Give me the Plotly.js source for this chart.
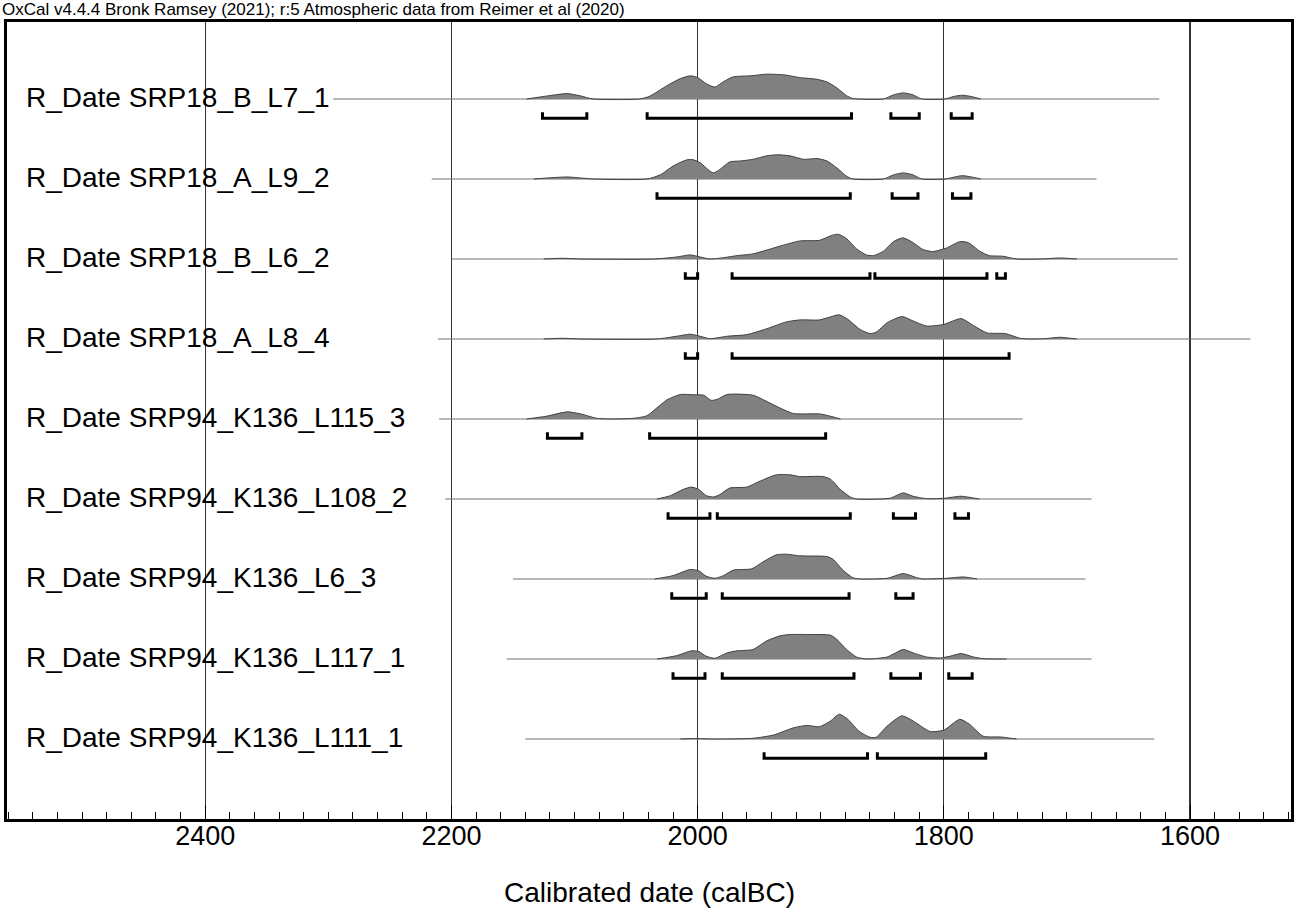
<!DOCTYPE html>
<html>
<head>
<meta charset="utf-8">
<script src="https://cdn.plot.ly/plotly-3.0.1.min.js"></script>
<style>
  html, body { margin: 0; padding: 0; background: #fff; }
  #plot { width: 1299px; height: 914px; }
</style>
</head>
<body>
<div id="plot"></div>
<script>
/* OxCal multiplot: calibrated R_Dates (calBC), 95.4% ranges */

const labels = [
  'R_Date SRP18_B_L7_1',
  'R_Date SRP18_A_L9_2',
  'R_Date SRP18_B_L6_2',
  'R_Date SRP18_A_L8_4',
  'R_Date SRP94_K136_L115_3',
  'R_Date SRP94_K136_L108_2',
  'R_Date SRP94_K136_L6_3',
  'R_Date SRP94_K136_L117_1',
  'R_Date SRP94_K136_L111_1',
];

// probability curves, year (calBC) + relative density
const yr1 = [2139, 2122, 2106, 2095, 2085, 2047, 2039, 2025, 2014, 2006, 2000, 1993, 1986, 1979, 1971, 1957, 1944, 1930, 1917, 1903, 1895, 1887, 1879, 1874, 1849, 1841, 1833, 1825, 1818, 1799, 1792, 1785, 1778, 1770];
const p1 = [0, 3, 5.3, 3, 0, 0, 2.7, 13, 20, 22.7, 21, 15, 11.7, 17, 21.7, 22.7, 24.3, 23.7, 21, 19.3, 16.7, 11, 3.3, 0.5, 0, 4, 6, 4, 0, 0, 2.5, 3.7, 2.5, 0];

const yr2 = [2133, 2106, 2085, 2041, 2030, 2020, 2009, 2004, 1998, 1990, 1987, 1982, 1974, 1965, 1955, 1944, 1935, 1925, 1914, 1903, 1895, 1887, 1879, 1874, 1849, 1841, 1833, 1825, 1818, 1799, 1785, 1770];
const p2 = [0, 2, 0, 0, 4.3, 12.7, 18.7, 19, 16, 7.7, 6, 9.3, 16.7, 17.7, 19.3, 22.7, 23.7, 22.7, 19.3, 20, 17.7, 11, 2.7, 0, 0, 4, 6, 4, 0, 0, 3.3, 0];

const yr3 = [2125, 2110, 2095, 2035, 2017, 2006, 1998, 1990, 1979, 1968, 1955, 1944, 1930, 1917, 1901, 1892, 1886, 1879, 1871, 1863, 1857, 1849, 1841, 1833, 1825, 1817, 1809, 1798, 1787, 1780, 1771, 1763, 1752, 1741, 1720, 1706, 1692];
const p3 = [0, 0.7, 0, 0, 2, 4, 2, 0, 1.3, 3.3, 5, 8.7, 13.7, 17.7, 18.3, 22.7, 24.3, 20, 10, 4, 3.3, 7.7, 17, 20.7, 16, 9.3, 7.3, 10.7, 17, 16, 7.7, 3.3, 2.7, 0, 0, 1, 0];

const yr4 = [2125, 2110, 2095, 2033, 2017, 2006, 1998, 1990, 1976, 1960, 1944, 1928, 1917, 1901, 1892, 1885, 1878, 1868, 1860, 1855, 1846, 1834, 1825, 1814, 1800, 1786, 1776, 1765, 1750, 1738, 1730, 1718, 1706, 1692];
const p4 = [0, 0.7, 0, 0, 2.7, 4.7, 2.7, 0.3, 2.7, 4.3, 10, 16.7, 18.7, 18.7, 21.7, 23.7, 19.3, 9.3, 5.3, 6.7, 16, 22, 17.7, 12.7, 14.3, 20, 13.3, 6, 5.3, 0.7, 0, 0.3, 1.7, 0];

const yr5 = [2139, 2123, 2106, 2095, 2082, 2071, 2052, 2041, 2033, 2025, 2014, 2003, 1995, 1989, 1984, 1976, 1955, 1944, 1933, 1922, 1901, 1892, 1884];
const p5 = [0, 2.7, 7, 5, 0.7, 0, 0.7, 3.3, 11, 18.7, 24, 23.7, 23.3, 18.3, 19.3, 24, 23.3, 17.3, 10.7, 5.3, 5, 2.7, 0];

const yr6 = [2033, 2022, 2012, 2005, 1999, 1993, 1987, 1982, 1974, 1960, 1949, 1936, 1925, 1917, 1898, 1892, 1884, 1876, 1871, 1844, 1833, 1825, 1814, 1800, 1786, 1776, 1771];
const p6 = [0, 3.3, 9.3, 11.7, 9.3, 3.3, 2, 4.3, 10.7, 11.7, 17.7, 23.7, 23.7, 22, 22, 19.3, 9.3, 2, 0, 0.7, 6, 2.7, 0.3, 0.7, 2.7, 1, 0];

const yr7 = [2035, 2020, 2006, 1999, 1993, 1986, 1979, 1971, 1956, 1947, 1936, 1928, 1917, 1895, 1890, 1882, 1874, 1868, 1846, 1833, 1822, 1817, 1798, 1784, 1773];
const p7 = [0, 3.3, 9.3, 8, 2.7, 0.7, 3.3, 8.7, 10, 16.7, 23.7, 24.3, 22.7, 22, 19.3, 8.7, 1.3, 0, 0.7, 5.3, 1.3, 0, 0.7, 2, 0];

const yr8 = [2033, 2017, 2005, 1999, 1993, 1986, 1976, 1968, 1955, 1944, 1933, 1925, 1911, 1892, 1887, 1879, 1871, 1863, 1846, 1833, 1825, 1814, 1803, 1795, 1786, 1776, 1768, 1749];
const p8 = [0, 3.3, 8, 7.3, 2.7, 0.7, 6, 8, 9.3, 17.7, 22.7, 24, 24, 23.3, 19.3, 9.3, 2, 0, 2, 9.3, 6, 2, 1, 2.7, 5.3, 2, 0.3, 0];

const yr9 = [2014, 2000, 1990, 1976, 1955, 1938, 1922, 1911, 1901, 1892, 1885, 1878, 1869, 1860, 1855, 1846, 1834, 1825, 1811, 1800, 1787, 1779, 1768, 1754, 1741];
const p9 = [0, 0.4, 0, 0, 0.7, 4, 11, 13.3, 12, 17.7, 24.3, 19.3, 7.7, 1.7, 1.7, 12.7, 22.7, 17.7, 7.3, 8.7, 19.3, 14.3, 2.7, 2, 0];

// extent of the thin line under each curve
const lineFrom = [2296, 2216, 2200, 2211, 2210, 2205, 2150, 2155, 2140];
const lineTo = [1625, 1676, 1610, 1551, 1736, 1680, 1685, 1680, 1629];

// 95.4% hpd ranges
const ranges = [
  [[2126, 2090], [2041, 1875], [1843, 1820], [1794, 1777]],
  [[2033, 1876], [1842, 1821], [1793, 1778]],
  [[2010, 2000], [1972, 1860], [1856, 1765], [1757, 1750]],
  [[2010, 2000], [1972, 1747]],
  [[2122, 2094], [2039, 1896]],
  [[2024, 1990], [1984, 1876], [1841, 1823], [1791, 1780]],
  [[2021, 1993], [1980, 1877], [1839, 1825]],
  [[2020, 1994], [1980, 1873], [1843, 1819], [1796, 1777]],
  [[1946, 1862], [1854, 1766]],
];

const years = [yr1, yr2, yr3, yr4, yr5, yr6, yr7, yr8, yr9];
const probs = [p1, p2, p3, p4, p5, p6, p7, p8, p9];

const FONT = 'Liberation Sans, Arial, Helvetica, sans-serif';
const PEAK = 0.31; // height of tallest curve in row units
const pMax = Math.max(...probs.map((p) => Math.max(...p)));

const traces = [];
for (let i = 0; i < labels.length; i++) {
  // thin line
  traces.push({
    type: 'scatter', mode: 'lines', hoverinfo: 'skip',
    x: [lineFrom[i], lineTo[i]], y: [i, i],
    line: { color: '#707070', width: 1 },
  });
  // base for the fill
  const xs = years[i];
  traces.push({
    type: 'scatter', mode: 'lines', hoverinfo: 'skip',
    x: [xs[0], xs[xs.length - 1]], y: [i, i],
    line: { color: 'rgba(0,0,0,0)', width: 0 },
  });
  traces.push({
    type: 'scatter', mode: 'lines', hoverinfo: 'skip',
    x: xs, y: probs[i].map((p) => i - (p / pMax) * PEAK),
    fill: 'tonexty', fillcolor: '#808080',
    line: { color: '#404040', width: 1, shape: 'spline', smoothing: 0.6 },
  });
  // range brackets
  const bx = [];
  const by = [];
  ranges[i].forEach((r) => {
    bx.push(r[0], r[0], r[1], r[1], null);
    by.push(i + 0.165, i + 0.24, i + 0.24, i + 0.165, null);
  });
  traces.push({
    type: 'scatter', mode: 'lines', hoverinfo: 'skip',
    x: bx, y: by,
    line: { color: '#000', width: 3 },
  });
}

const annotations = labels.map((t, i) => ({
  text: t, xref: 'paper', yref: 'y', x: 0.0135, y: i - 0.02,
  xanchor: 'left', yanchor: 'middle', showarrow: false,
  font: { family: FONT, size: 28, color: '#000' },
}));
annotations.push({
  text: 'OxCal v4.4.4 Bronk Ramsey (2021); r:5 Atmospheric data from Reimer et al (2020)',
  xref: 'paper', yref: 'paper', x: -0.0055, y: 1.0155,
  xanchor: 'left', yanchor: 'middle', showarrow: false,
  font: { family: FONT, size: 17, color: '#000' },
});
annotations.push({
  text: 'Calibrated date (calBC)',
  xref: 'paper', yref: 'paper', x: 0.5, y: -0.0928,
  xanchor: 'center', yanchor: 'middle', showarrow: false,
  font: { family: FONT, size: 28, color: '#000' },
});

const layout = {
  width: 1299,
  height: 914,
  margin: { l: 7, r: 8, t: 22, b: 95 },
  paper_bgcolor: '#fff',
  plot_bgcolor: '#fff',
  showlegend: false,
  xaxis: {
    range: [2561, 1518],
    tickvals: [2400, 2200, 2000, 1800, 1600],
    ticks: 'inside', ticklen: 14, tickwidth: 1, tickcolor: '#000',
    minor: { dtick: 20, tick0: 0, ticks: 'inside', ticklen: 7, tickwidth: 1, tickcolor: '#000', showgrid: false },
    showgrid: true, gridcolor: '#333333', gridwidth: 1.2,
    zeroline: false,
    showline: true, linecolor: '#000', linewidth: 3, mirror: true,
    ticklabelstandoff: -9,
    tickfont: { family: FONT, size: 27, color: '#000' },
  },
  yaxis: {
    range: [9, -0.9625],
    showgrid: false, zeroline: false, showticklabels: false, ticks: '',
    showline: true, linecolor: '#000', linewidth: 3, mirror: true,
  },
  annotations: annotations,
};

Plotly.newPlot('plot', traces, layout, { staticPlot: true });
</script>
</body>
</html>
